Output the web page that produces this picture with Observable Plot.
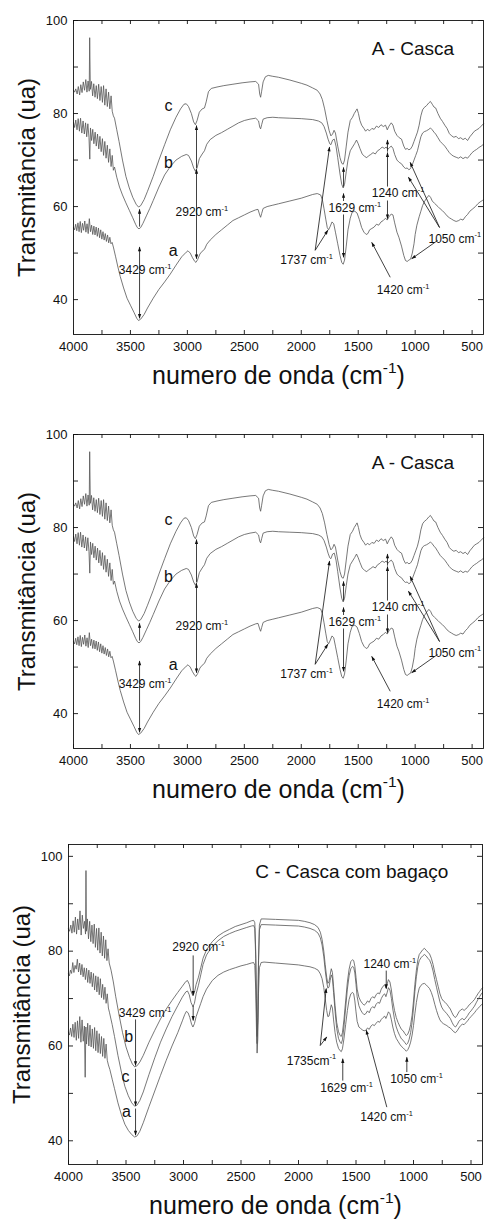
<!DOCTYPE html>
<html>
<head>
<meta charset="utf-8">
<script src="https://cdn.jsdelivr.net/npm/d3@7"></script>
<script src="https://cdn.jsdelivr.net/npm/@observablehq/plot@0.6"></script>
<style>
  html, body { margin: 0; padding: 0; background: #fff; }
  #chart { position: relative; width: 486px; height: 1223px; background: #fff; }
  .panel { position: absolute; left: 0; }
</style>
</head>
<body>
<div id="chart"></div>
<script>
// ---------------- tick values ----------------
const xTickValues = [4000,3750,3500,3250,3000,2750,2500,2250,2000,1750,1500,1250,1000,750,500];
const xLabelValues = [4000,3500,3000,2500,2000,1500,1000,500];
const yTickValues = [40,50,60,70,80,90,100];
const yLabelValues = [40,60,80,100];

// ---------------- Panel A (Casca): series [wavenumber, transmittance] ----------------
const cascaC = [[4000,85.0],[3990,84.6],[3980,85.3],[3968,84.2],[3958,85.8],[3946,84.0],[3936,86.2],[3925,84.5],[3914,86.8],[3903,85.0],[3892,87.3],[3882,84.6],[3872,87.0],[3862,84.8],[3858,96.3],[3852,85.2],[3842,86.9],[3832,83.8],[3822,86.4],[3811,83.5],[3800,86.0],[3790,83.2],[3779,86.3],[3768,82.8],[3757,85.8],[3746,82.4],[3736,86.0],[3725,81.8],[3714,85.3],[3703,81.5],[3692,84.6],[3681,81.0],[3670,83.8],[3660,80.5],[3650,79.5],
[3640,79],[3620,76.5],[3600,74],[3570,70],[3540,66.5],[3510,64],[3480,62],[3450,60.5],[3429,59.9],[3410,60.2],[3380,61.5],[3350,63.3],[3300,66.5],[3250,70],[3200,73.3],[3150,76.5],[3100,79.2],[3060,81],[3030,82],[3010,82.1],[2990,81.5],[2965,80],[2945,78.2],[2930,77.6],[2915,78.5],[2895,80.3],[2870,81],[2850,81.2],[2835,82.5],[2815,84.7],[2790,85.4],[2740,85.7],[2680,86],[2600,86.3],[2520,86.6],[2450,86.8],[2400,86.9],[2375,86.3],[2365,84.2],[2357,83.5],[2348,84.8],[2335,86.8],[2315,87.9],[2290,88.2],[2250,88],[2200,87.8],[2100,87.2],[2000,86.5],[1950,86.1],[1900,85.5],[1860,85],[1835,84.2],[1815,83],[1795,81],[1775,78.5],[1755,76.3],[1740,75.2],[1725,75.6],[1712,76.4],[1700,75.8],[1680,73],[1660,70.5],[1645,69.3],[1632,69.1],[1620,70],[1605,73],[1590,76],[1570,78.5],[1550,79.2],[1535,80],[1520,80.6],[1510,81],[1498,80],[1485,78.5],[1470,77.5],[1450,76.8],[1435,76.2],[1420,76.6],[1400,76.3],[1380,76.8],[1360,76.6],[1340,77.3],[1320,77],[1300,77.6],[1280,77.2],[1260,77.5],[1245,76.5],[1230,77.3],[1210,78],[1195,77.5],[1180,76.2],[1160,75.3],[1140,74.8],[1120,74.5],[1100,73],[1085,72.3],[1070,72.5],[1055,72.2],[1040,72.4],[1025,73],[1010,74],[995,75],[980,76],[965,77.5],[950,79.5],[935,80.8],[920,81.3],[900,81.7],[880,82.3],[866,82.6],[850,82],[835,81.4],[820,81.2],[800,80],[780,79],[760,78.3],[740,77.5],[720,76.8],[700,75.7],[680,75.2],[660,74.9],[640,75.1],[620,74.6],[600,74.8],[580,74.4],[560,74.7],[540,74.2],[520,75],[500,75.6],[480,76.2],[460,76.5],[440,76.8],[420,77.3],[400,77.8]];

const cascaB = [[4000,78.1],[3990,77.0],[3980,78.6],[3969,76.5],[3959,78.9],[3948,76.2],[3938,79.0],[3927,75.8],[3916,78.4],[3905,75.6],[3894,78.0],[3884,75.0],[3874,77.8],[3864,74.8],[3857,70.2],[3851,76.9],[3841,74.2],[3831,76.6],[3821,73.5],[3810,76.0],[3800,73.0],[3789,75.6],[3778,72.4],[3768,75.1],[3757,71.8],[3746,74.6],[3736,71.0],[3725,74.0],[3714,70.4],[3703,73.2],[3692,69.5],[3681,72.4],[3670,68.6],[3660,71.0],[3650,67.8],
[3640,68.5],[3620,66.3],[3596,64.2],[3570,62.5],[3540,60.8],[3510,59.2],[3480,57.6],[3455,56.2],[3440,55.5],[3425,55.2],[3410,55.5],[3390,56.4],[3360,58],[3330,59.6],[3300,61.3],[3250,64.2],[3200,66.8],[3150,68.6],[3100,70],[3050,70.8],[3010,71.2],[2990,71],[2965,69.8],[2945,68.3],[2930,67.6],[2915,68.3],[2895,70.3],[2870,71.3],[2850,72],[2830,73.4],[2800,74.4],[2750,75.3],[2700,75.9],[2650,76.6],[2600,77.3],[2550,78],[2500,78.5],[2450,78.8],[2400,79],[2375,78.4],[2365,77.1],[2357,76.7],[2348,77.6],[2335,78.8],[2300,79.1],[2250,79.2],[2200,79.1],[2100,79],[2000,78.9],[1950,78.8],[1900,78.7],[1850,78.4],[1820,78],[1800,77.2],[1780,75.8],[1765,74.5],[1750,73.5],[1740,73.3],[1725,74.3],[1710,74.5],[1695,73],[1680,70.5],[1660,67],[1645,64.8],[1632,64],[1620,64.8],[1605,67.5],[1590,70],[1570,72],[1550,72.8],[1530,73.6],[1515,74.3],[1500,73.5],[1485,72.5],[1465,71.3],[1445,70.8],[1425,70.5],[1410,70.9],[1390,71.2],[1370,71.6],[1350,71.3],[1330,72],[1310,72.3],[1290,72.8],[1270,72.5],[1255,72.8],[1240,72.3],[1225,72.7],[1210,73],[1195,72.5],[1180,71.2],[1160,70],[1140,69.5],[1120,69.2],[1100,68.5],[1085,68.2],[1070,68.3],[1055,67.9],[1040,68.2],[1025,69],[1010,70],[995,71],[980,72],[965,73.5],[950,75],[935,75.8],[920,76.1],[900,76.3],[880,76.6],[866,76.9],[850,76.5],[835,76],[820,75.6],[800,74.8],[780,74],[760,73.5],[740,73],[720,72.3],[700,71.6],[680,71.1],[660,70.8],[640,70.6],[620,70.4],[600,70.7],[580,70.3],[560,70.6],[540,70.4],[520,71],[500,71.6],[480,72],[460,72.3],[440,72.7],[420,73],[400,73.4]];

const cascaA = [[4000,55.5],[3990,55.0],[3981,56.2],[3971,54.8],[3961,56.5],[3951,54.6],[3941,56.8],[3931,54.4],[3921,56.4],[3911,54.9],[3901,56.9],[3891,54.5],[3881,56.3],[3871,54.2],[3861,57.4],[3851,54.6],[3841,56.0],[3831,54.0],[3821,55.8],[3811,53.9],[3801,55.6],[3791,53.6],[3781,55.4],[3771,53.3],[3761,55.0],[3751,53.0],[3741,54.6],[3731,52.8],[3721,54.2],[3711,52.5],[3701,53.9],[3691,52.2],[3681,53.4],[3671,52.0],[3661,52.3],[3650,51.3],
[3630,49.2],[3610,47],[3590,45],[3560,42.5],[3530,40.3],[3500,38.8],[3470,37.3],[3445,36],[3429,35.5],[3410,35.8],[3380,36.8],[3350,38.2],[3300,40.3],[3250,42.2],[3200,43.8],[3150,45.5],[3100,47.4],[3050,49.2],[3010,50.2],[2995,50.5],[2975,50],[2955,49],[2935,48.2],[2925,48],[2910,48.6],[2890,49.8],[2870,50.4],[2850,50.8],[2830,51.9],[2800,52.8],[2750,54],[2700,55],[2650,56],[2600,57],[2550,57.6],[2500,58.2],[2450,58.8],[2400,59.3],[2380,59.4],[2365,58.2],[2357,57.7],[2348,58.5],[2335,59.6],[2300,60],[2250,60.3],[2200,60.6],[2100,61.2],[2000,61.8],[1950,62.2],[1900,62.6],[1860,62.8],[1830,62.5],[1815,61.5],[1800,59.5],[1785,57.3],[1772,55.5],[1760,55],[1745,55.8],[1730,56.7],[1715,56.3],[1700,54.5],[1680,52],[1660,49.5],[1645,48],[1632,47.6],[1620,48.5],[1605,51.5],[1590,55],[1570,57.5],[1553,58.8],[1530,59],[1510,58.6],[1490,57.2],[1470,55.5],[1450,54.5],[1430,54],[1415,54.2],[1400,55],[1380,55.3],[1360,55.6],[1340,56.2],[1320,56],[1300,56.7],[1280,57],[1260,57.5],[1245,57.1],[1230,57.8],[1210,58.4],[1195,58.2],[1180,56.5],[1160,54.5],[1143,53.4],[1120,51.5],[1100,49.5],[1085,48.4],[1070,48.2],[1055,48.5],[1040,48.7],[1025,50],[1010,52],[1000,54],[985,56],[965,57.8],[950,59],[935,60.2],[920,61],[900,61.8],[880,62.4],[865,62],[850,61.2],[830,60.7],[800,60],[780,59.5],[760,59.1],[740,58.6],[720,58],[700,57.6],[680,57.3],[660,57],[640,56.8],[617,57],[600,57.3],[580,57.1],[560,57.8],[540,58.3],[520,59],[500,59.4],[471,60],[450,60.6],[430,61],[410,61.3],[400,61.5]];

// Panel A annotations (data coordinates: wavenumber, transmittance)
const cascaLabels = [
  {x: 3602, y: 46.3, text: "3429 cm^-1"},
  {x: 3104, y: 58.7, text: "2920 cm^-1"},
  {x: 2185, y: 48.4, text: "1737 cm^-1"},
  {x: 1761, y: 59.7, text: "1629 cm^-1"},
  {x: 1381, y: 62.8, text: "1240 cm^-1"},
  {x: 883,  y: 53.1, text: "1050 cm^-1"},
  {x: 1337, y: 42.0, text: "1420 cm^-1"}
];
const cascaLetters = [
  {x: 3166, y: 81.7, text: "c"},
  {x: 3166, y: 69.3, text: "b"},
  {x: 3125, y: 50.4, text: "a"}
];
const cascaArrows = [
  {x1: 3420, y1: 55.7, x2: 3420, y2: 59.4},
  {x1: 3420, y1: 46.3, x2: 3420, y2: 51.3},
  {x1: 3420, y1: 46.3, x2: 3420, y2: 36.0},
  {x1: 2920, y1: 68.3, x2: 2920, y2: 77.4},
  {x1: 2920, y1: 58.7, x2: 2920, y2: 68.0},
  {x1: 2920, y1: 58.7, x2: 2920, y2: 48.8},
  {x1: 1878, y1: 50.6, x2: 1752, y2: 72.8},
  {x1: 1878, y1: 50.6, x2: 1767, y2: 54.9},
  {x1: 1629, y1: 64.3, x2: 1629, y2: 68.4},
  {x1: 1629, y1: 61.2, x2: 1629, y2: 62.8},
  {x1: 1629, y1: 58.3, x2: 1629, y2: 49.1},
  {x1: 1243, y1: 64.3, x2: 1243, y2: 71.6},
  {x1: 1243, y1: 71.8, x2: 1243, y2: 74.3},
  {x1: 1243, y1: 61.3, x2: 1243, y2: 57.4},
  {x1: 786, y1: 55.5, x2: 1044, y2: 69.5},
  {x1: 786, y1: 55.5, x2: 1059, y2: 66.3},
  {x1: 804, y1: 52.7, x2: 1030, y2: 48.8},
  {x1: 1219, y1: 44.8, x2: 1381, y2: 52.3}
];

// ---------------- Panel C (Casca com bagaço) ----------------
const bagacoB = [[4000,84.7],[3990,84.2],[3980,85.5],[3970,83.8],[3960,86.4],[3950,84.0],[3940,87.2],[3930,83.6],[3920,86.8],[3910,84.5],[3900,88.5],[3890,83.4],[3880,87.6],[3870,84.8],[3860,86.3],[3852,83.6],[3848,97.0],[3844,84.2],[3836,86.8],[3826,82.6],[3816,86.3],[3806,82.0],[3796,85.5],[3786,81.6],[3776,85.7],[3766,80.8],[3756,84.8],[3746,80.2],[3736,84.9],[3726,79.6],[3716,84.0],[3706,79.0],[3696,83.2],[3686,78.5],[3676,82.4],[3666,78.0],[3656,80.5],[3646,77.5],
[3630,76],[3610,73.5],[3590,70.5],[3560,66.5],[3530,62.8],[3500,59.8],[3470,57.6],[3445,56.2],[3425,55.6],[3405,55.8],[3380,56.6],[3350,58],[3300,60.8],[3250,63.3],[3200,65.7],[3150,67.8],[3100,69.6],[3050,71.3],[3010,72.6],[2980,73.6],[2965,73.8],[2950,73],[2935,71.5],[2918,70.6],[2905,71.3],[2890,73],[2870,74.5],[2850,76.5],[2830,78.5],[2800,80.3],[2750,82],[2700,83.2],[2650,84],[2600,84.6],[2550,85.2],[2500,85.6],[2450,86],[2410,86.4],[2390,86.5],[2380,86],[2372,80],[2366,70],[2360,62],[2354,66],[2348,78],[2340,85.5],[2325,86.8],[2300,86.8],[2200,86.7],[2100,86.6],[2000,86.5],[1950,86.3],[1900,86],[1860,85.6],[1830,85],[1810,84],[1795,82.5],[1780,80],[1768,77.2],[1755,74.5],[1745,73.2],[1735,73.5],[1725,75],[1715,76.3],[1705,75.5],[1695,72.5],[1682,68.5],[1668,65],[1652,63],[1638,62.2],[1628,62],[1618,62.8],[1605,65.5],[1590,69.5],[1575,73.5],[1560,76.2],[1545,77.8],[1530,78.2],[1520,78],[1510,76.8],[1500,74.5],[1490,72],[1475,70.3],[1460,69.5],[1445,69],[1430,68.6],[1415,68.9],[1400,69.5],[1385,69.2],[1370,70],[1355,70.4],[1340,70.1],[1325,70.8],[1310,71.2],[1295,71],[1280,72],[1265,72.6],[1250,72.9],[1240,72.3],[1230,73],[1218,74],[1205,73.5],[1192,71.8],[1180,69.5],[1165,67.5],[1150,66],[1135,65],[1120,64.2],[1105,63.5],[1090,63.2],[1075,62.6],[1062,62.2],[1050,62.5],[1038,63.2],[1025,64.5],[1012,66.5],[1000,69.5],[988,73],[975,76],[962,78.2],[950,79.3],[935,79.8],[920,80.3],[905,80.6],[890,80.2],[875,79.8],[860,79.4],[845,78.5],[830,77.2],[815,75.5],[800,74],[785,72.5],[770,71],[755,70],[740,69.5],[725,69.2],[710,68.8],[695,68.3],[680,67.8],[665,67],[650,66.3],[635,66],[620,66.5],[605,67.2],[590,67.6],[575,67.8],[560,67.5],[545,67.8],[530,68.2],[515,68.7],[500,69],[485,69.4],[470,69.8],[455,70.4],[440,71],[425,71.5],[410,72],[400,72.3]];

const bagacoC = [[4000,75.2],[3992,74.8],[3983,76.0],[3973,75.3],[3963,77.6],[3953,75.5],[3943,77.0],[3933,76.2],[3923,78.3],[3913,75.6],[3903,77.5],[3893,75.0],[3883,77.2],[3873,74.6],[3863,76.5],[3853,74.0],[3843,76.4],[3833,73.4],[3823,76.0],[3813,73.2],[3803,75.6],[3793,72.5],[3783,75.3],[3773,71.8],[3763,74.8],[3753,71.4],[3743,74.6],[3733,70.8],[3723,74.2],[3713,70.2],[3703,73.0],[3693,69.8],[3683,72.4],[3673,69.0],[3663,71.0],[3653,68.0],[3643,67.0],
[3620,64.5],[3600,62],[3570,58],[3540,54.5],[3510,51.5],[3480,49.5],[3450,48],[3425,47.3],[3405,47.5],[3380,48.5],[3350,50.3],[3300,54],[3250,57.5],[3200,60.8],[3150,63.6],[3100,66.2],[3050,68.5],[3010,70.3],[2980,71.4],[2965,71.6],[2950,70.8],[2935,69.2],[2918,68.3],[2905,69],[2890,71],[2870,72.8],[2850,75],[2830,77.2],[2800,79.2],[2750,81],[2700,82.2],[2650,83.1],[2600,83.7],[2550,84.2],[2500,84.6],[2450,85],[2410,85.3],[2390,85.4],[2380,84.8],[2372,78.5],[2366,68],[2360,60.5],[2354,65],[2348,77],[2340,84.5],[2325,85.6],[2300,85.6],[2200,85.5],[2100,85.4],[2000,85.3],[1950,85.1],[1900,84.8],[1860,84.4],[1830,83.8],[1810,82.8],[1795,81.3],[1780,78.8],[1768,76],[1755,73.5],[1745,72.2],[1735,72.4],[1725,73.8],[1715,75],[1705,74.3],[1695,71.3],[1682,67.3],[1668,63.7],[1652,61.6],[1638,60.8],[1628,60.5],[1618,61.3],[1605,64],[1590,68],[1575,72],[1560,74.8],[1545,76.3],[1530,76.8],[1520,76.6],[1510,75.4],[1500,73],[1490,70.4],[1475,68.5],[1460,67.6],[1445,67],[1430,66.6],[1415,66.8],[1400,67.4],[1385,67],[1370,67.9],[1355,68.3],[1340,68],[1325,68.8],[1310,69.2],[1295,69],[1280,70],[1265,70.7],[1250,71],[1240,70.4],[1230,71.2],[1218,72.3],[1205,71.8],[1192,70],[1180,67.8],[1165,65.6],[1150,64],[1135,63],[1120,62.2],[1105,61.5],[1090,61.2],[1075,60.7],[1062,60.3],[1050,60.6],[1038,61.4],[1025,62.8],[1012,65],[1000,68],[988,71.5],[975,74.6],[962,76.8],[950,78],[935,78.6],[920,79],[905,79.3],[890,79],[875,78.5],[860,78.1],[845,77.2],[830,75.8],[815,74],[800,72.4],[785,70.8],[770,69.3],[755,68.2],[740,67.6],[725,67.2],[710,66.8],[695,66.3],[680,65.8],[665,65],[650,64.3],[635,64],[620,64.5],[605,65.2],[590,65.6],[575,65.8],[560,65.5],[545,65.9],[530,66.4],[515,67],[500,67.4],[485,67.9],[470,68.4],[455,69.1],[440,69.8],[425,70.4],[410,71],[400,71.3]];

const bagacoA = [[4000,62.9],[3991,62.3],[3982,63.8],[3972,62.0],[3962,64.6],[3952,61.8],[3942,65.0],[3932,61.2],[3922,65.3],[3912,61.6],[3902,66.2],[3892,60.8],[3882,65.5],[3872,61.0],[3862,64.2],[3855,53.4],[3849,64.0],[3843,60.4],[3833,64.8],[3823,60.0],[3813,64.4],[3803,59.8],[3793,63.6],[3783,59.5],[3773,63.9],[3763,59.0],[3753,63.2],[3743,58.6],[3733,62.6],[3723,58.4],[3713,62.0],[3703,57.8],[3693,61.6],[3683,57.4],[3673,60.4],[3663,57.0],[3653,56.0],
[3640,55],[3620,53],[3600,51],[3570,48],[3540,45.5],[3510,43.5],[3480,42.2],[3450,41.3],[3425,40.8],[3405,41],[3380,42],[3350,43.8],[3300,47.2],[3250,50.5],[3200,53.8],[3150,57],[3100,60],[3050,62.8],[3010,65.3],[2990,66.6],[2975,67.3],[2960,67],[2945,66],[2930,64.6],[2918,64],[2905,64.7],[2890,66.2],[2870,67.6],[2850,69],[2830,70.4],[2800,72],[2750,73.8],[2700,74.9],[2650,75.6],[2600,76.1],[2550,76.5],[2500,76.9],[2450,77.2],[2410,77.5],[2390,77.6],[2380,77],[2372,72],[2366,64],[2360,58.5],[2354,61.5],[2348,71],[2340,76.5],[2325,77.6],[2300,77.7],[2200,77.5],[2100,77.3],[2000,77.1],[1950,76.9],[1900,76.7],[1860,76.4],[1830,76],[1810,75.2],[1795,74.2],[1780,72.3],[1768,70],[1755,67.5],[1745,66.2],[1735,66.3],[1725,67.5],[1715,68.7],[1705,68],[1695,65.5],[1682,62.8],[1668,60.8],[1652,59.5],[1638,59],[1628,58.8],[1618,59.4],[1605,61.5],[1590,64.5],[1575,67.5],[1560,69.8],[1545,71],[1530,71.3],[1520,71],[1510,69.5],[1500,67.2],[1490,65.2],[1475,64],[1460,63.7],[1445,63.4],[1430,63.2],[1415,63.3],[1400,63.8],[1385,63.5],[1370,64.2],[1355,64.5],[1340,64.3],[1325,64.8],[1310,65.2],[1295,65],[1280,65.6],[1265,66],[1250,66.3],[1240,65.8],[1230,66.4],[1218,67.2],[1205,66.8],[1192,65.5],[1180,64],[1165,62.6],[1150,61.6],[1135,61],[1120,60.4],[1105,59.9],[1090,59.6],[1075,59.2],[1062,58.9],[1050,59.2],[1038,59.8],[1025,60.8],[1012,62.3],[1000,64.3],[988,66.8],[975,69.2],[962,71],[950,72.2],[935,72.8],[920,73.1],[905,73.2],[890,72.9],[875,72.5],[860,72.1],[845,71.3],[830,70.2],[815,68.8],[800,67.5],[785,66.4],[770,65.5],[755,65],[740,64.7],[725,64.5],[710,64.3],[695,64],[680,63.8],[665,63.4],[650,63],[635,62.8],[620,63.2],[605,63.8],[590,64.3],[575,64.6],[560,64.5],[545,64.9],[530,65.3],[515,65.8],[500,66.2],[485,66.6],[470,67],[455,67.5],[440,67.9],[425,68.3],[410,68.7],[400,68.9]];

const bagacoLabels = [
  {x: 3098, y: 80.8, text: "2920 cm^-1"},
  {x: 3563, y: 66.9, text: "3429 cm^-1"},
  {x: 2102, y: 56.9, text: "1735cm^-1"},
  {x: 1811, y: 51.2, text: "1629 cm^-1"},
  {x: 1463, y: 45.0, text: "1420 cm^-1"},
  {x: 1203, y: 53.1, text: "1050 cm^-1"},
  {x: 1435, y: 77.3, text: "1240 cm^-1"}
];
const bagacoLetters = [
  {x: 3476, y: 61.9, text: "b"},
  {x: 3504, y: 53.4, text: "c"},
  {x: 3496, y: 46.0, text: "a"}
];
const bagacoArrows = [
  {x1: 2916, y1: 79.1, x2: 2916, y2: 70.7},
  {x1: 2916, y1: 68.5, x2: 2916, y2: 65.4},
  {x1: 3417, y1: 65.6, x2: 3417, y2: 55.9},
  {x1: 3417, y1: 55.2, x2: 3417, y2: 47.4},
  {x1: 3417, y1: 46.8, x2: 3417, y2: 41.2},
  {x1: 1811, y1: 60.1, x2: 1759, y2: 72.1},
  {x1: 1811, y1: 60.1, x2: 1754, y2: 61.9},
  {x1: 1615, y1: 52.7, x2: 1615, y2: 57.3},
  {x1: 1232, y1: 47.1, x2: 1411, y2: 63.3},
  {x1: 1058, y1: 54.5, x2: 1058, y2: 57.6},
  {x1: 1237, y1: 75.9, x2: 1237, y2: 72.1}
];

// ---------------- drawing ----------------
const W = 486;
const INK = "#111";
const LINE = "#555";
const FONT = "'Liberation Sans', Arial, Helvetica, sans-serif";

function panel({curves, yDomain, top, height, mTop, mBottom, mLeft, mRight, labels, letters, arrows, title}) {
  const plotW = W - mLeft - mRight;
  const plotH = height - mTop - mBottom;
  const svg = Plot.plot({
    width: W, height,
    marginTop: mTop, marginBottom: mBottom, marginLeft: mLeft, marginRight: mRight,
    x: {domain: [4000, 400]},
    y: {domain: yDomain},
    style: {background: "transparent", fontFamily: FONT, color: INK, overflow: "visible"},
    marks: [
      Plot.ruleY(yTickValues, {insetRight: plotW - 5, stroke: INK, strokeWidth: 0.9}),
      Plot.ruleY(yTickValues, {insetLeft: plotW - 5, stroke: INK, strokeWidth: 0.9}),
      Plot.ruleX(xTickValues, {insetTop: plotH - 4, stroke: INK, strokeWidth: 0.9}),
      Plot.ruleX(xTickValues, {insetBottom: plotH - 4, stroke: INK, strokeWidth: 0.9}),
      ...curves.map(c => Plot.line(c, {x: d => d[0], y: d => d[1], stroke: LINE, strokeWidth: 0.8})),
      Plot.link(arrows, {x1: "x1", y1: "y1", x2: "x2", y2: "y2", markerEnd: "arrow", stroke: INK, strokeWidth: 0.8}),
      Plot.text(labels, {x: "x", y: "y", text: "text", textAnchor: "start", fontSize: 12, fill: INK}),
      Plot.text(letters, {x: "x", y: "y", text: "text", fontSize: 16, fill: INK}),
      Plot.text([title], {x: d => d.x, y: d => d.y, text: d => d.text, textAnchor: "start", fontSize: 19, fill: INK}),
      Plot.frame({stroke: INK, strokeWidth: 0.9}),
      Plot.axisX(xLabelValues, {tickSize: 0, tickPadding: 7, fontSize: 13, label: null, tickFormat: d => String(d)}),
      Plot.axisY(yLabelValues, {tickSize: 0, tickPadding: 6, fontSize: 13, label: null, tickFormat: d => String(d)}),
      Plot.text(["Transmitância (ua)"], {text: d => d, frameAnchor: "left", dx: -46, rotate: -90, textAnchor: "middle", lineAnchor: "middle", fontSize: 24, fill: INK}),
      Plot.text(["numero de onda (cm^-1^)"], {text: d => d, frameAnchor: "bottom", dy: 49, textAnchor: "middle", lineAnchor: "bottom", fontSize: 25, fill: INK})
    ]
  });
  const div = document.createElement("div");
  div.className = "panel";
  div.style.top = top + "px";
  div.appendChild(svg);
  document.getElementById("chart").appendChild(div);
  finish(svg);
}

function finish(svg) {
  const s = d3.select(svg);
  // filled arrowheads
  s.selectAll("marker").attr("overflow", "visible").attr("fill", INK).attr("stroke", "none");
  s.selectAll("marker path").attr("d", "M-8,-3L1,0L-8,3Z");
  // superscripts written as ^...^
  s.selectAll("text").each(function () {
    const t = this.textContent;
    if (!t.includes("^")) return;
    const fs = parseFloat(getComputedStyle(this).fontSize) || 12;
    const parts = t.split("^");
    const el = d3.select(this);
    el.text(null);
    el.append("tspan").text(parts[0]);
    el.append("tspan").attr("dy", (-0.42 * fs).toFixed(2)).attr("font-size", (0.62 * fs).toFixed(2)).text(parts[1]);
    if (parts[2] !== undefined && parts[2] !== "") {
      el.append("tspan").attr("dy", (0.42 * fs).toFixed(2)).text(parts[2]);
    }
  });
}

panel({curves: [cascaC, cascaB, cascaA], yDomain: [32.5, 100], top: 0, height: 400,
  mTop: 20, mBottom: 66, mLeft: 73, mRight: 3,
  labels: cascaLabels, letters: cascaLetters, arrows: cascaArrows,
  title: {x: 1381, y: 93.9, text: "A - Casca"}});

panel({curves: [cascaC, cascaB, cascaA], yDomain: [32.5, 100], top: 414, height: 400,
  mTop: 20, mBottom: 66, mLeft: 73, mRight: 3,
  labels: cascaLabels, letters: cascaLetters, arrows: cascaArrows,
  title: {x: 1381, y: 93.9, text: "A - Casca"}});

panel({curves: [bagacoB, bagacoC, bagacoA], yDomain: [35, 102.5], top: 824, height: 399,
  mTop: 20, mBottom: 59, mLeft: 68, mRight: 4,
  labels: bagacoLabels, letters: bagacoLetters, arrows: bagacoArrows,
  title: {x: 2377, y: 96.7, text: "C - Casca com bagaço"}});
</script>
</body>
</html>
